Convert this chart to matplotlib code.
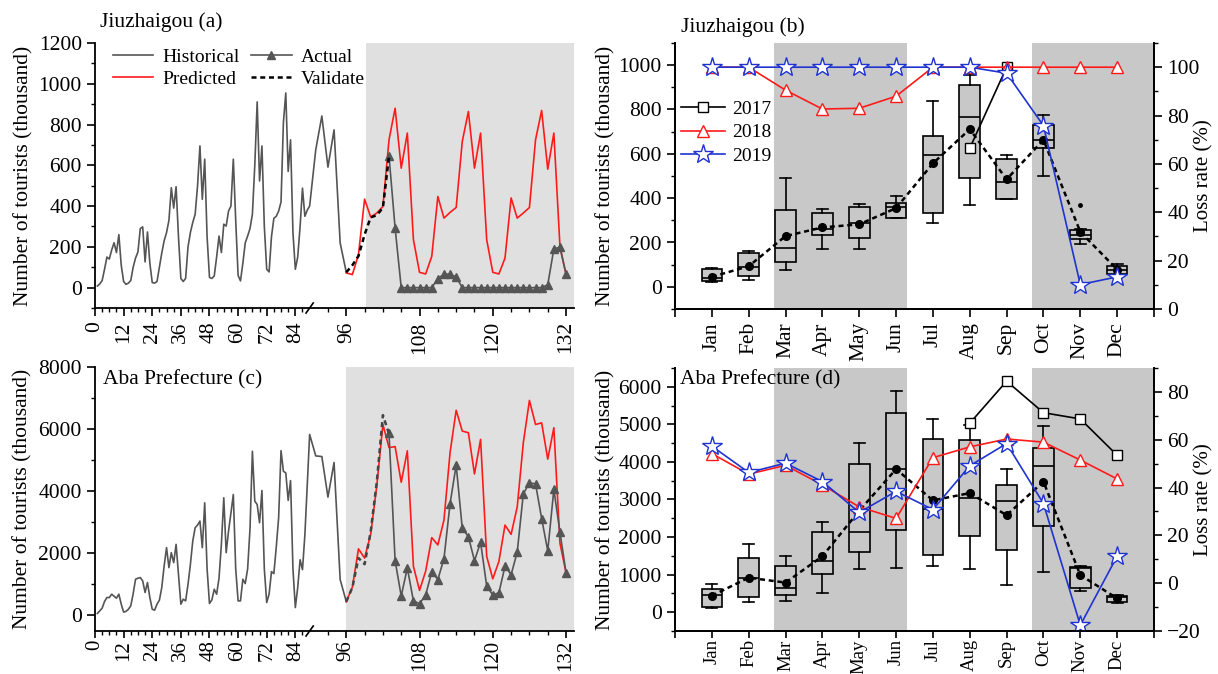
import numpy as np
import matplotlib
matplotlib.use('Agg')
import matplotlib.pyplot as plt
from matplotlib.lines import Line2D
from matplotlib.ticker import MultipleLocator, FixedLocator

plt.rcParams['font.family'] = ['Liberation Serif', 'DejaVu Serif']
plt.rcParams['font.size'] = 15.5

# ---- monthly series, x = 12*(year-2009) + month ----
hist_x = np.arange(1, 97)
pred_x = np.arange(96, 133)
val_x = np.arange(96, 104)
act_x = np.arange(103, 133)

jzg_hist = [8, 18, 35, 90, 150, 140, 185, 220, 172, 260, 110, 30,
            16, 22, 35, 100, 145, 175, 290, 298, 126, 273, 120, 25,
            22, 30, 100, 170, 230, 270, 330, 490, 390, 495, 250, 45,
            30, 45, 200, 270, 320, 360, 500, 695, 433, 630, 250, 50,
            45, 57, 150, 253, 172, 311, 302, 376, 400, 630, 330, 60,
            33, 120, 220, 253, 290, 360, 600, 911, 523, 695, 300, 90,
            77, 250, 340, 350, 375, 420, 810, 955, 570, 725, 270, 90,
            150, 300, 488, 350, 380, 400, 676, 842, 591, 774, 219, 75]
jzg_pred = [72, 64, 162, 434, 346, 366, 398, 725, 880, 586, 758, 235,
            75, 67, 153, 447, 341, 369, 393, 717, 864, 586, 758, 235,
            75, 67, 145, 440, 341, 366, 393, 725, 869, 581, 758, 202, 64]
jzg_val = [75, 110, 155, 260, 345, 355, 392, 645]
jzg_act = [645, 292, 0, 0, 0, 0, 0, 0, 44, 66, 66, 52,
           0, 0, 0, 0, 0, 0, 0, 0, 0, 0, 0, 0, 0, 0,
           14, 190, 198, 66]

aba_hist = [64, 150, 235, 450, 578, 578, 685, 620, 556, 685, 364, 110,
            130, 200, 310, 700, 1166, 1200, 1220, 1113, 740, 1060, 578, 200,
            171, 364, 492, 900, 1600, 2183, 1540, 2022, 1700, 2290, 1327, 364,
            524, 470, 1000, 1648, 2400, 2825, 2910, 3040, 2183, 3627, 1500, 385,
            500, 845, 685, 1200, 2300, 3790, 2022, 2718, 3300, 3895, 1500, 470,
            470, 1166, 1027, 1500, 2800, 5286, 3680, 3574, 2985, 4023, 1500, 417,
            685, 1412, 1348, 2200, 3146, 5307, 4644, 4590, 3705, 4342, 1500, 255,
            900, 1794, 1475, 2590, 4200, 5828, 5138, 5117, 3811, 4926, 1157, 446]
aba_pred = [446, 913, 2145, 1848, 2612, 4184, 6149, 5406, 5437, 4290, 5300, 1582,
            807, 1423, 2506, 2272, 3069, 5246, 6606, 5937, 5883, 4556, 5671, 1901,
            1179, 1742, 2910, 2612, 3494, 5565, 6924, 6149, 6202, 5034, 6043, 2326, 1370]
aba_val = [446, 900, 1850, 1650, 2700, 4300, 6450, 5850]
aba_act = [5862, 1763, 627, 1529, 467, 382, 658, 1402, 1158, 1827, 3600, 4843,
           2804, 2538, 1763, 2358, 945, 658, 733, 1582, 1317, 2039, 3919, 4269,
           4237, 3122, 2081, 4057, 2676, 1370]

# ---- monthly box statistics ----
months = ['Jan', 'Feb', 'Mar', 'Apr', 'May', 'Jun', 'Jul', 'Aug', 'Sep', 'Oct', 'Nov', 'Dec']
mpos = np.arange(1, 13)

jzg_lo = [20, 29, 78, 172, 169, 309, 286, 367, 395, 500, 191, 51]
jzg_q1 = [28, 51, 111, 232, 221, 312, 334, 489, 395, 628, 217, 56]
jzg_med = [38, 89, 176, 259, 286, 361, 595, 768, 474, 663, 236, 75]
jzg_q3 = [80, 154, 346, 334, 361, 380, 681, 911, 575, 730, 256, 93]
jzg_hi = [85, 161, 489, 349, 372, 410, 839, 955, 593, 776, 262, 101]
jzg_mean = [45, 93, 229, 268, 282, 355, 557, 711, 485, 663, 248, 78]
jzg_fliers = [[], [], [], [], [], [], [], [], [], [], [370], []]

aba_lo = [114, 263, 289, 499, 1138, 1182, 1226, 1138, 727, 1077, 552, 245]
aba_q1 = [149, 412, 464, 1025, 1602, 2189, 1515, 2040, 1664, 2303, 639, 263]
aba_med = [464, 902, 657, 1375, 2128, 3809, 2758, 3038, 2960, 3879, 1182, 400]
aba_q3 = [613, 1445, 1243, 2128, 3940, 5315, 4623, 4571, 3398, 4378, 1208, 438]
aba_hi = [744, 1821, 1489, 2391, 4492, 5893, 5149, 4980, 3809, 4947, 1226, 464]
aba_mean = [438, 920, 788, 1489, 2700, 3809, 2977, 3170, 2583, 3476, 989, 368]

nan = np.nan
jzg_loss17 = [nan] * 7 + [66.5, 100] + [nan] * 3
jzg_loss18 = [100, 100, 90.5, 82.7, 83, 88, 100, 100, 100, 100, 100, 100]
jzg_loss19 = [100] * 8 + [97.5, 75.8, 10.1, 13.3]
aba_loss17 = [nan] * 7 + [66.9, 84.5, 71.3, 68.7, 53.5]
aba_loss18 = [54.2, 45.6, 49.3, 41.1, 31.9, 27.1, 52.5, 57, 60.3, 59, 51.5, 43.6]
aba_loss19 = [57.3, 46.3, 50.2, 42.5, 29.6, 38.4, 30.8, 49.1, 58.4, 33.3, -17.6, 11.3]

GREY = '#555555'
RED = '#ff1a1a'
BLUE = '#1f33d0'

# broken x axis: 0-90 compressed
BRK = 90
R = 6.25 / 16
XMAX = 133.3


def fwd(x):
    x = np.asarray(x, dtype=float)
    return np.where(x <= BRK, x * R, BRK * R + (x - BRK))


def inv(y):
    y = np.asarray(y, dtype=float)
    return np.where(y <= BRK * R, y / R, y - BRK * R + BRK)


def style(ax):
    ax.tick_params(which='major', direction='out', length=6, width=1.2, labelsize=15.5)
    ax.tick_params(which='minor', direction='out', length=3, width=1.0)
    for s in ax.spines.values():
        s.set_linewidth(1.3)
    ax.spines['top'].set_visible(False)


def series_axes(ax, hist, pred, val, act, ylim, ystep, gray_from, val_color, bottom_row=False):
    ax.set_xscale('function', functions=(fwd, inv))
    ax.set_xlim(0, XMAX)
    ax.set_ylim(*ylim)
    ax.axvspan(gray_from, XMAX, color='#e0e0e0', lw=0, zorder=0)
    ax.plot(hist_x, hist, color=GREY, lw=1.2, zorder=2)
    ax.plot(pred_x, pred, color=RED, lw=1.2, zorder=3)
    ax.plot(act_x, act, color=GREY, lw=1.2, marker='^', ms=5.5, zorder=4)
    ax.plot(val_x, val, color=val_color, lw=1.8, ls=(0, (2, 1.5)), zorder=5)
    ax.xaxis.set_major_locator(FixedLocator([0, 12, 24, 36, 48, 60, 72, 84, 96, 108, 120, 132]))
    minors = [m for m in range(3, 133, 3) if m % 12 and m != 90]
    ax.xaxis.set_minor_locator(FixedLocator(minors))
    ax.yaxis.set_major_locator(MultipleLocator(ystep))
    ax.yaxis.set_minor_locator(MultipleLocator(ystep / 2))
    ax.set_ylabel('Number of tourists (thousand)', fontsize=15.5, labelpad=4)
    style(ax)
    ax.spines['right'].set_visible(False)
    if bottom_row:
        ax.tick_params(axis='x', which='major', length=5, pad=1.5, labelsize=15)
    for lab in ax.get_xticklabels():
        lab.set_rotation(90)
    # axis break mark
    fx = float(fwd(BRK) / fwd(XMAX))
    ax.plot([fx - 0.0075, fx + 0.0075], [-0.019, 0.019], transform=ax.transAxes,
            color='black', lw=1.2, clip_on=False)


def box_axes(ax, lo, q1, med, q3, hi, mean, fliers, l17, l18, l19, ylim, ystep, rlim, rstep,
             bottom_row=False):
    ax.set_xlim(0, 13)
    ax.set_ylim(*ylim)
    ax.axvspan(2.7, 6.3, color='#c8c8c8', lw=0, zorder=0)
    ax.axvspan(9.7, 13, color='#c8c8c8', lw=0, zorder=0)
    stats = [dict(whislo=lo[i], q1=q1[i], med=med[i], q3=q3[i], whishi=hi[i],
                  fliers=fliers[i]) for i in range(12)]
    ax.bxp(stats, positions=mpos, widths=0.56, capwidths=0.3, patch_artist=True,
           boxprops=dict(facecolor='#c8c8c8', edgecolor='black', lw=1.2),
           medianprops=dict(color='black', lw=1.2),
           whiskerprops=dict(color='black', lw=1.2),
           capprops=dict(color='black', lw=1.2),
           flierprops=dict(marker='o', ms=2.5, mfc='black', mec='black'),
           manage_ticks=False, zorder=2)
    ax.plot(mpos, mean, color='black', lw=1.8, ls=(0, (2, 1.5)), marker='o', ms=5.5, zorder=3)
    ax.set_xticks(np.arange(0, 14))
    ax.set_xticklabels([''] + months + [''], rotation=90)
    ax.yaxis.set_major_locator(MultipleLocator(ystep))
    ax.yaxis.set_minor_locator(MultipleLocator(ystep / 2))
    ax.set_ylabel('Number of tourists (thousand)', fontsize=15.5, labelpad=2)
    style(ax)
    if bottom_row:
        ax.tick_params(axis='x', which='major', length=5, pad=1, labelsize=13.5)

    ax2 = ax.twinx()
    ax2.set_ylim(*rlim)
    ax2.plot(mpos, l17, color='black', lw=1.2, marker='s', ms=7, mfc='white', mec='black', label='2017')
    ax2.plot(mpos, l18, color=RED, lw=1.2, marker='^', ms=9, mfc='white', mec=RED, label='2018')
    ax2.plot(mpos, l19, color=BLUE, lw=1.2, marker='*', ms=15, mfc='white', mec=BLUE, mew=1.0, label='2019')
    ax2.yaxis.set_major_locator(MultipleLocator(rstep))
    ax2.yaxis.set_minor_locator(MultipleLocator(rstep / 2))
    ax2.set_ylabel('Loss rate (%)', fontsize=15)
    ax2.yaxis.set_label_coords(1.083, 0.5)
    style(ax2)
    return ax2


fig = plt.figure(figsize=(12.18, 6.74), dpi=100)

ax_a = fig.add_axes([95 / 1218, 1 - 308 / 674, 479 / 1218, 265 / 674])
series_axes(ax_a, jzg_hist, jzg_pred, jzg_val, jzg_act, (-100, 1200), 200, 99.3, 'black')
handles = [Line2D([], [], color=GREY, lw=1.2), Line2D([], [], color=RED, lw=1.2),
           Line2D([], [], color=GREY, lw=1.2, marker='^', ms=5.5),
           Line2D([], [], color='black', lw=1.8, ls=(0, (2, 1.5)))]
ax_a.legend(handles, ['Historical', 'Predicted', 'Actual', 'Validate'], ncol=2,
            loc='upper left', bbox_to_anchor=(0.0, 1.045), frameon=False, fontsize=14,
            handlelength=2.1, columnspacing=0.6, handletextpad=0.45, labelspacing=0.2)

ax_c = fig.add_axes([95 / 1218, 1 - 631 / 674, 479 / 1218, 264 / 674])
series_axes(ax_c, aba_hist, aba_pred, aba_val, aba_act, (-500, 8000), 2000, 96, '#444444',
            bottom_row=True)

ax_b = fig.add_axes([675 / 1218, 1 - 309 / 674, 479 / 1218, 266 / 674])
ax_b2 = box_axes(ax_b, jzg_lo, jzg_q1, jzg_med, jzg_q3, jzg_hi, jzg_mean, jzg_fliers,
                 jzg_loss17, jzg_loss18, jzg_loss19, (-100, 1100), 200, (0, 110), 20)
ax_b2.legend(loc='upper left', bbox_to_anchor=(-0.025, 0.85), frameon=False, fontsize=14,
             handlelength=2.3, handletextpad=0.35, labelspacing=0.3)

ax_d = fig.add_axes([675 / 1218, 1 - 631 / 674, 479 / 1218, 263 / 674])
box_axes(ax_d, aba_lo, aba_q1, aba_med, aba_q3, aba_hi, aba_mean, [[]] * 12,
         aba_loss17, aba_loss18, aba_loss19, (-500, 6500), 1000, (-20, 90), 20, bottom_row=True)

fig.text(100 / 1218, 1 - 22 / 674, 'Jiuzhaigou (a)', fontsize=15.5, va='center')
fig.text(681 / 1218, 1 - 27 / 674, 'Jiuzhaigou (b)', fontsize=15.5, va='center')
fig.text(103 / 1218, 1 - 380 / 674, 'Aba Prefecture (c)', fontsize=15.5, va='center')
fig.text(680 / 1218, 1 - 380 / 674, 'Aba Prefecture (d)', fontsize=15.5, va='center')

fig.savefig('out.png', dpi=100)
